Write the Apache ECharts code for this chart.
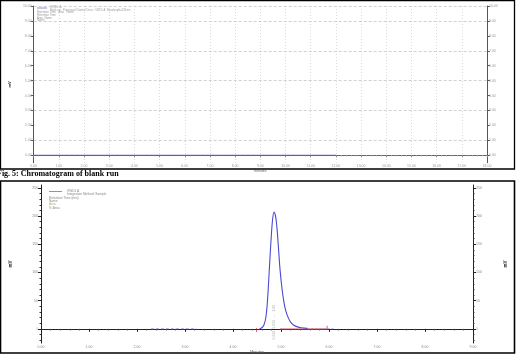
<!DOCTYPE html>
<html><head><meta charset="utf-8">
<script src="https://cdn.jsdelivr.net/npm/echarts@6/dist/echarts.min.js"></script>
<style>html,body{margin:0;padding:0;background:#fff}#c{width:516px;height:356px}</style>
</head><body><div id="c"></div>
<script>
// ---- top panel: blank run ----
const blankTime = [0, 12];
const blankSignal = [0, 0];
const topYTicks = [0, 1, 2, 3, 4, 5, 6, 7, 8, 9, 10];
const topGridLevels = [1, 3, 5, 7, 9, 10];
// ---- bottom panel: sample run ----
const preTime = [2.29, 3.24];
const preSignal = [0, 0];
const peakTime = [4.55, 4.60, 4.64, 4.68, 4.71, 4.74, 4.78, 4.82, 4.855, 4.89, 4.92, 4.95, 4.98, 5.02, 5.06, 5.10, 5.15, 5.20, 5.26, 5.33, 5.42, 5.55];
const peakSignal = [0, 2, 6, 18, 40, 80, 140, 190, 207, 198, 175, 140, 105, 72, 48, 32, 20, 12, 7, 4, 2, 1];
const postTime = [5.55, 6.12];
const postSignal = [0, 0];
const baseTime = [4.98, 5.96];
const baseSignal = [0, 0];
const markTime = [4.49, 5.96];
const markSignal = [-2, 2];
const bottomYTicks = [0, 50, 100, 150, 200, 250];
const peakLabelPos = [4.85, 12];
const peakLabelText = '5.874  5.874   ---  1.80';

const bottomYMinor = [];
for (let v = -20; v <= 250; v += 10) if (v % 50 !== 0) bottomYMinor.push(v);

const zip = (a, b) => a.map((v, i) => [v, b[i]]);
const chart = echarts.init(document.getElementById('c'), null, {renderer: 'canvas'});
const lblGray = '#9a9a9a';

chart.setOption({
  animation: false,
  backgroundColor: '#fff',
  grid: [
    {left: 27, right: 29, top: 6, height: 156.7},
    {left: 36, right: 39, top: 185, height: 158}
  ],
  xAxis: [
    {gridIndex: 0, type: 'value', min: 0, max: 18, interval: 1,
     axisLine: {lineStyle: {color: '#666', width: 1}},
     axisTick: {length: 2, lineStyle: {color: '#888'}},
     minorTick: {show: true, splitNumber: 5, length: 1, lineStyle: {color: '#aaa'}},
     axisLabel: {fontSize: 3.5, color: lblGray, margin: 1.5, formatter: v => v.toFixed(2)},
     splitLine: {show: true, lineStyle: {type: [1, 2], color: '#c8c8c8', width: 0.7}},
     name: 'minutes', nameLocation: 'middle', nameGap: 5,
     nameTextStyle: {fontSize: 3.5, color: '#666'}},
    {gridIndex: 1, type: 'value', min: 0, max: 9, interval: 1,
     axisLine: {lineStyle: {color: '#222', width: 1}},
     axisTick: {length: 3, lineStyle: {color: '#222'}},
     minorTick: {show: true, splitNumber: 5, length: 1.5, lineStyle: {color: '#444'}},
     axisLabel: {fontSize: 3.5, color: '#888', margin: 2, formatter: v => v.toFixed(2)},
     splitLine: {show: false},
     name: 'Minutes', nameLocation: 'middle', nameGap: 7,
     nameTextStyle: {fontSize: 4, color: '#666'}}
  ],
  yAxis: [
    {gridIndex: 0, type: 'value', position: 'left', min: -0.5, max: 10,
     axisLine: {show: true, lineStyle: {color: '#555'}},
     axisTick: {show: true, customValues: topYTicks, length: 3, lineStyle: {color: '#555'}},
     axisLabel: {customValues: topYTicks, fontSize: 3.5, color: lblGray, margin: 2, formatter: v => v.toFixed(2)},
     splitLine: {show: false},
     name: 'mV', nameLocation: 'middle', nameGap: 21, nameRotate: 90,
     nameTextStyle: {fontSize: 4, color: '#222', fontWeight: 'bold'}},
    {gridIndex: 0, type: 'value', position: 'right', min: -0.5, max: 10,
     axisLine: {show: true, lineStyle: {color: '#555'}},
     axisTick: {show: true, customValues: topYTicks, length: 3, lineStyle: {color: '#555'}},
     axisLabel: {customValues: topYTicks, fontSize: 3.5, color: lblGray, margin: 2, formatter: v => v.toFixed(2)},
     splitLine: {show: false}},
    {gridIndex: 1, type: 'value', position: 'left', min: -25, max: 255,
     axisLine: {show: true, lineStyle: {color: '#222'}},
     axisTick: {show: true, customValues: bottomYTicks, length: 3, lineStyle: {color: '#222'}},
     axisLabel: {customValues: bottomYTicks, fontSize: 3.5, margin: 3,
       color: v => (Number(v) === 0 ? '#b8b860' : '#888')},
     splitLine: {show: false},
     name: 'mV', nameLocation: 'middle', nameGap: 28, nameRotate: 90,
     nameTextStyle: {fontSize: 4.5, color: '#222', fontWeight: 'bold'}},
    {gridIndex: 1, type: 'value', position: 'right', min: -25, max: 255,
     axisLine: {show: true, lineStyle: {color: '#222'}},
     axisTick: {show: true, customValues: bottomYTicks, length: 3, lineStyle: {color: '#222'}},
     axisLabel: {customValues: bottomYTicks, fontSize: 3.5, margin: 3,
       color: v => (Number(v) === 0 ? '#b8b860' : '#888')},
     splitLine: {show: false},
     name: 'mV', nameLocation: 'middle', nameGap: 30, nameRotate: 90,
     nameTextStyle: {fontSize: 4.5, color: '#222', fontWeight: 'bold'}},
    {gridIndex: 1, type: 'value', position: 'left', min: -25, max: 255,
     axisLine: {show: false}, axisLabel: {show: false}, splitLine: {show: false},
     axisTick: {show: true, customValues: bottomYMinor, length: 1.5, lineStyle: {color: '#333'}}},
    {gridIndex: 1, type: 'value', position: 'right', min: -25, max: 255,
     axisLine: {show: false}, axisLabel: {show: false}, splitLine: {show: false},
     axisTick: {show: true, customValues: bottomYMinor, length: 1.5, lineStyle: {color: '#333'}}}
  ],
  series: [
    {type: 'line', xAxisIndex: 0, yAxisIndex: 0, data: zip(blankTime, blankSignal),
     symbol: 'none', lineStyle: {color: '#5b5bb8', width: 1.2},
     markLine: {silent: true, symbol: 'none', label: {show: false},
       lineStyle: {type: [3, 2], color: '#bdbdbd', width: 0.7},
       data: topGridLevels.map(v => ({yAxis: v}))}},
    {type: 'line', xAxisIndex: 1, yAxisIndex: 2, data: zip(preTime, preSignal),
     symbol: 'none', lineStyle: {color: '#6a6ad0', width: 0.8, type: [3, 2]}},
    {type: 'line', xAxisIndex: 1, yAxisIndex: 2, data: zip(postTime, postSignal),
     symbol: 'none', lineStyle: {color: '#6a6ad0', width: 0.8, type: [2, 2]}},
    {type: 'line', xAxisIndex: 1, yAxisIndex: 2, data: zip(baseTime, baseSignal),
     symbol: 'none', lineStyle: {color: '#e06070', width: 0.9}},
    {type: 'line', xAxisIndex: 1, yAxisIndex: 2, data: zip(peakTime, peakSignal),
     symbol: 'none', smooth: 0.3, lineStyle: {color: '#4a4ad0', width: 1.1}},
    {type: 'scatter', xAxisIndex: 1, yAxisIndex: 2, data: zip(markTime, markSignal),
     symbol: 'rect', symbolSize: [0.9, 4], itemStyle: {color: '#d02030'}},
    {type: 'scatter', xAxisIndex: 1, yAxisIndex: 2, data: [peakLabelPos],
     symbolSize: 0, silent: true,
     label: {show: true, position: 'inside', rotate: 90, formatter: peakLabelText,
       fontSize: 3.5, color: '#999'}}
  ],
  graphic: [
    {type: 'rect', shape: {x: 0.5, y: 0.5, width: 514, height: 168.5}, silent: true,
     style: {fill: 'none', stroke: '#000', lineWidth: 1.3}},
    {type: 'rect', shape: {x: 0.5, y: 181, width: 514, height: 172}, silent: true,
     style: {fill: 'none', stroke: '#000', lineWidth: 1.6}},
    {type: 'text', left: -3, top: 170, silent: true,
     style: {text: 'Fig. 5: Chromatogram of blank run', font: 'bold 8px "Liberation Serif"', fill: '#000'}},
    // top legend block
    {type: 'line', shape: {x1: 37, y1: 8, x2: 47, y2: 8}, style: {stroke: '#7070c8', lineWidth: 0.8}},
    {type: 'text', left: 50, top: 5.5, style: {text: 'VWD1 A', font: '3px sans-serif', fill: '#999'}},
    {type: 'text', left: 50, top: 8.3, style: {text: 'Blank run   Processed Channel Descr.: VWD1 A, Wavelength=230 nm', font: '2.6px sans-serif', fill: '#999'}},
    {type: 'text', left: 37, top: 11, style: {text: 'Retention Time   Area   Name', font: '2.8px sans-serif', fill: '#999'}},
    {type: 'text', left: 37, top: 14, style: {text: 'Retention Time', font: '2.8px sans-serif', fill: '#999'}},
    {type: 'text', left: 37, top: 16.3, style: {text: 'Area  Name', font: '2.8px sans-serif', fill: '#999'}},
    {type: 'text', left: 37, top: 18.3, style: {text: 'Name', font: '2.8px sans-serif', fill: '#999'}},
    // bottom legend block
    {type: 'line', shape: {x1: 49, y1: 191.5, x2: 62, y2: 191.5}, style: {stroke: '#7070c8', lineWidth: 0.8}},
    {type: 'text', left: 67, top: 189.5, style: {text: 'VWD1 A', font: '3.2px sans-serif', fill: '#888'}},
    {type: 'text', left: 67, top: 192.8, style: {text: 'Integration Method: Sample', font: '3.2px sans-serif', fill: '#888'}},
    {type: 'text', left: 49, top: 196.3, style: {text: 'Retention Time (min)', font: '3.2px sans-serif', fill: '#888'}},
    {type: 'text', left: 49, top: 199.6, style: {text: 'Name', font: '3.2px sans-serif', fill: '#888'}},
    {type: 'text', left: 49, top: 202.8, style: {text: 'Area', font: '3.2px sans-serif', fill: '#b0b070'}},
    {type: 'text', left: 49, top: 206.2, style: {text: '% Area', font: '3.2px sans-serif', fill: '#888'}}
  ]
});
</script></body></html>
